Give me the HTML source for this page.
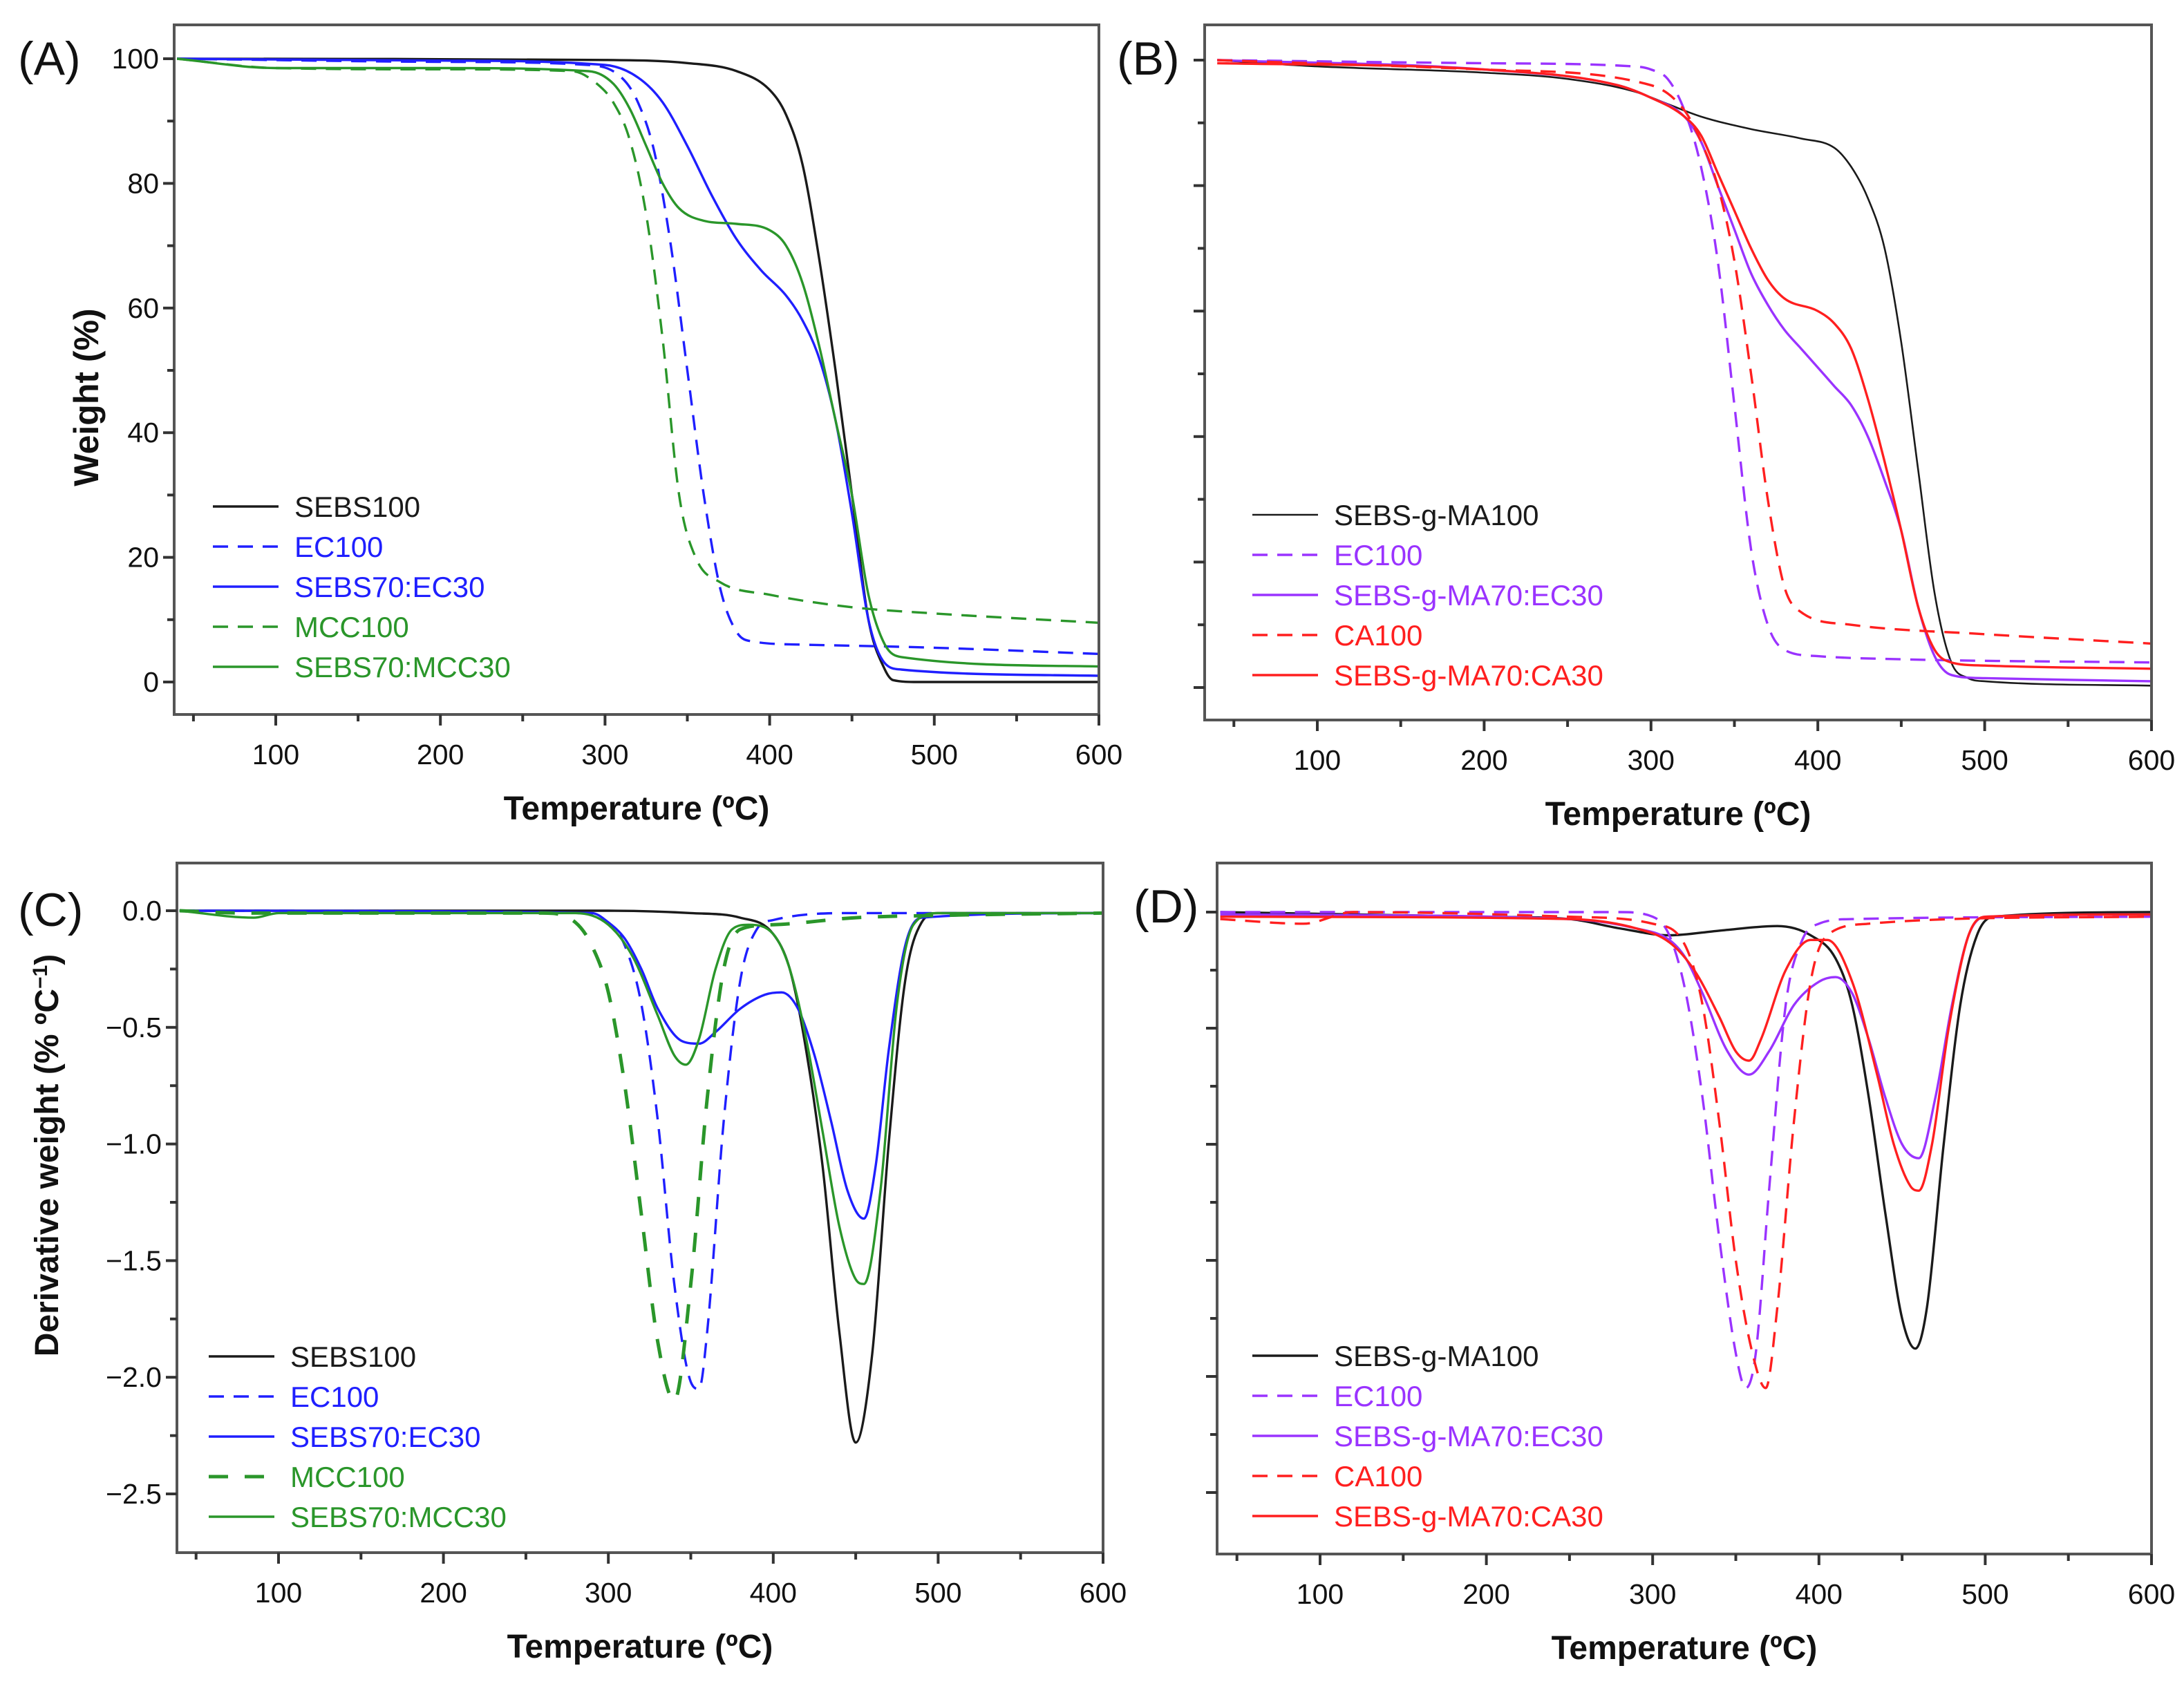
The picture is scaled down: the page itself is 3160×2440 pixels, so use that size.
<!DOCTYPE html>
<html><head><meta charset="utf-8">
<style>
html,body{margin:0;padding:0;background:#fff;}
svg{display:block;}
text{font-family:"Liberation Sans",sans-serif;}
</style></head>
<body>
<svg id="fig" width="3160" height="2440" viewBox="0 0 3160 2440" xmlns="http://www.w3.org/2000/svg"></svg>
<script>
// ---------- DATA ----------
// Panel A (weight %)
const aSEBS100_T=[40,300,350,380,400,410,420,430,440,450,460,470,475,490,600];
const aSEBS100_V=[100,99.8,99.3,98,95,91,83,68,50,30,10,2,0.3,0,0];
const aEC100_T=[40,200,290,310,320,330,340,350,360,370,380,390,420,500,600];
const aEC100_V=[100,99.5,99,97,93,85,70,50,30,15,8,6.5,6,5.5,4.5];
const aSEBSEC_T=[40,200,300,320,335,350,365,380,395,410,420,430,440,450,460,470,480,600];
const aSEBSEC_V=[100,99.7,99,97,93,86,78,71,66,62,58,52,42,27,10,3,2,1];
const aMCC100_T=[40,100,200,280,295,305,315,325,335,345,355,370,400,450,500,600];
const aMCC100_V=[100,98.5,98.3,98,96,93,87,75,55,30,20,16,14,12,11,9.5];
const aSEBSMCC_T=[40,100,200,290,305,315,325,335,345,360,380,400,410,420,430,440,450,460,470,480,600];
const aSEBSMCC_V=[100,98.5,98.5,98,96,92,86,80,76,74,73.5,72.5,70,64,54,42,30,14,6,4,2.5];
// Panel B (weight %)
const bMA100_T=[40,100,200,250,290,310,330,360,390,410,420,430,440,450,460,470,480,490,500,600];
const bMA100_V=[100,99,98,97,95,93,91,89,87.5,86,83,78,70,55,35,15,4,1.5,1,0.3];
const bEC100_T=[40,200,290,300,310,320,330,340,350,360,370,380,400,450,600];
const bEC100_V=[100,99.5,99,98.5,97,92,83,68,45,22,10,6,5,4.5,4];
const bMAEC_T=[40,200,280,300,320,330,340,350,360,370,380,390,400,410,420,430,440,450,460,470,480,500,600];
const bMAEC_V=[100,98.5,96,94,91,87,80,73,66,61,57,54,51,48,45,40,33,25,13,5,2,1.5,1];
const bCA100_T=[40,200,300,320,330,340,350,360,370,380,390,420,500,600];
const bCA100_V=[100,98.5,96,92,87,80,68,50,30,16,12,10,8.5,7];
const bMACA_T=[40,200,280,300,320,330,340,350,360,370,380,400,410,420,430,440,450,460,470,480,500,600];
const bMACA_V=[99.5,98.5,96,94,91,88,82,76,70,65,62,60,58,54,46,36,25,13,6,4,3.5,3];
// Panel C (derivative)
const cSEBS100_T=[40,300,350,380,400,410,420,430,440,450,460,470,480,490,500,600];
const cSEBS100_V=[0,0,-0.01,-0.03,-0.1,-0.25,-0.6,-1.1,-1.8,-2.28,-1.9,-1.0,-0.3,-0.05,-0.01,-0.01];
const cEC100_T=[40,280,300,310,320,330,340,350,355,360,370,380,390,400,450,600];
const cEC100_V=[0,-0.01,-0.05,-0.15,-0.4,-0.9,-1.6,-2.02,-2.05,-1.8,-0.9,-0.3,-0.08,-0.04,-0.01,-0.01];
const cSEBSEC_T=[40,290,300,310,320,330,345,355,365,380,395,405,415,425,435,445,455,462,470,480,490,600];
const cSEBSEC_V=[0,-0.01,-0.05,-0.12,-0.25,-0.42,-0.56,-0.57,-0.52,-0.42,-0.36,-0.35,-0.42,-0.62,-0.9,-1.2,-1.32,-1.1,-0.6,-0.15,-0.03,-0.01];
const cMCC100_T=[40,80,260,280,290,300,310,320,330,340,350,360,370,380,400,450,500,600];
const cMCC100_V=[0,-0.01,-0.01,-0.05,-0.15,-0.35,-0.75,-1.3,-1.85,-2.1,-1.6,-0.8,-0.25,-0.08,-0.06,-0.03,-0.02,-0.01];
const cSEBSMCC_T=[40,85,100,280,300,315,330,340,347,355,365,375,385,400,410,420,430,440,450,455,465,475,485,500,600];
const cSEBSMCC_V=[0,-0.03,-0.01,-0.01,-0.06,-0.2,-0.45,-0.62,-0.66,-0.55,-0.25,-0.08,-0.06,-0.1,-0.25,-0.55,-0.95,-1.35,-1.58,-1.6,-1.2,-0.4,-0.06,-0.01,-0.01];
// Panel D (derivative)
const dMA100_T=[40,200,250,280,310,340,375,395,410,420,430,440,450,458,465,475,485,495,505,600];
const dMA100_V=[0,-0.02,-0.03,-0.07,-0.1,-0.08,-0.06,-0.1,-0.2,-0.4,-0.8,-1.3,-1.75,-1.88,-1.7,-1.0,-0.4,-0.1,-0.02,0];
const dEC100_T=[40,280,300,310,320,330,340,350,356,362,370,380,390,400,420,600];
const dEC100_V=[0,0,-0.02,-0.1,-0.35,-0.8,-1.4,-1.9,-2.05,-1.9,-1.2,-0.4,-0.12,-0.05,-0.03,-0.02];
const dMAEC_T=[40,250,290,310,320,330,345,358,370,385,400,410,420,430,440,450,460,470,480,490,500,600];
const dMAEC_V=[-0.01,-0.03,-0.07,-0.12,-0.2,-0.35,-0.6,-0.7,-0.6,-0.4,-0.3,-0.28,-0.35,-0.55,-0.8,-1.0,-1.06,-0.8,-0.4,-0.1,-0.02,-0.01];
const dCA100_T=[40,90,120,250,300,320,330,340,350,360,368,375,385,395,405,430,480,600];
const dCA100_V=[-0.03,-0.05,0,-0.02,-0.05,-0.15,-0.4,-0.9,-1.5,-1.9,-2.05,-1.7,-0.9,-0.3,-0.1,-0.05,-0.03,-0.02];
const dMACA_T=[40,250,290,310,325,340,350,358,365,380,395,405,420,435,445,455,460,468,478,490,500,600];
const dMACA_V=[-0.02,-0.03,-0.07,-0.13,-0.25,-0.45,-0.6,-0.64,-0.55,-0.25,-0.12,-0.12,-0.3,-0.7,-1.0,-1.18,-1.2,-1.0,-0.5,-0.1,-0.02,-0.01];
const xTicks=[100,200,300,400,500,600];
const yTicksA=[0,20,40,60,80,100];
const yTicksC=[0.0,-0.5,-1.0,-1.5,-2.0,-2.5];
const yTickLabelsC=["0.0","\u22120.5","\u22121.0","\u22121.5","\u22122.0","\u22122.5"];

// ---------- RENDER ----------
const NS="http://www.w3.org/2000/svg";
const svg=document.getElementById('fig');
function mk(tag,attrs,parent){const e=document.createElementNS(NS,tag);for(const k in attrs)e.setAttribute(k,attrs[k]);(parent||svg).appendChild(e);return e;}
const BLK="#1a1a1a",BLU="#1f1fff",GRN="#2a962a",PUR="#9a33ff",RED="#ff1f1f";

function monoPath(pts){
  const n=pts.length;if(n<2)return"";
  const dx=[],m=[],t=[];
  for(let i=0;i<n-1;i++){dx[i]=pts[i+1][0]-pts[i][0];m[i]=(pts[i+1][1]-pts[i][1])/dx[i];}
  t[0]=m[0];t[n-1]=m[n-2];
  for(let i=1;i<n-1;i++){t[i]=(m[i-1]*m[i]<=0)?0:(m[i-1]+m[i])/2;}
  for(let i=0;i<n-1;i++){if(m[i]===0){t[i]=0;t[i+1]=0;continue;}const a=t[i]/m[i],b=t[i+1]/m[i],s=a*a+b*b;if(s>9){const k=3/Math.sqrt(s);t[i]=k*a*m[i];t[i+1]=k*b*m[i];}}
  let d="M"+pts[0][0].toFixed(1)+","+pts[0][1].toFixed(1);
  for(let i=0;i<n-1;i++){const h=dx[i]/3;d+=" C"+(pts[i][0]+h).toFixed(1)+","+(pts[i][1]+t[i]*h).toFixed(1)+" "+(pts[i+1][0]-h).toFixed(1)+","+(pts[i+1][1]-t[i+1]*h).toFixed(1)+" "+pts[i+1][0].toFixed(1)+","+pts[i+1][1].toFixed(1);}
  return d;
}

function panel(cfg){
  const g=mk('g',{});
  
  
  const X=t=>cfg.x100+(t-100)*cfg.xs;
  const Y=v=>cfg.y0+(v-cfg.v0)*cfg.ys;
  const clip=mk('clipPath',{id:'clip'+cfg.id},g);
  mk('rect',{x:cfg.L,y:cfg.T,width:cfg.R-cfg.L,height:cfg.B-cfg.T},clip);
  cfg.series.forEach(s=>{
    const pts=s.T.map((t,i)=>[X(t),Y(s.V[i])]);
    const p=mk('path',{d:monoPath(pts),fill:'none',stroke:s.c,'stroke-width':s.w||3.4,'stroke-dasharray':s.dash?s.dash:'none','clip-path':'url(#clip'+cfg.id+')'},g);
    
    
  });
  const fr=mk('rect',{x:cfg.L,y:cfg.T,width:cfg.R-cfg.L,height:cfg.B-cfg.T,fill:'none',stroke:'#555','stroke-width':4},g);
  
  
  for(let t=50;t<=600;t+=50){
    const major=t%100===0;const x=X(t);
    mk('line',{x1:x,x2:x,y1:cfg.B,y2:cfg.B+(major?16:10),stroke:'#333','stroke-width':4},g);
  }
  xTicks.forEach(t=>{
    const tx=mk('text',{x:X(t),y:cfg.B+72,'font-size':41,'text-anchor':'middle',fill:'#111'},g);
    tx.textContent=t;
    
    
  });
  cfg.yt.forEach((v,i)=>{
    const y=Y(v);
    mk('line',{x1:cfg.L-16,x2:cfg.L,y1:y,y2:y,stroke:'#333','stroke-width':4},g);
    if(i<cfg.yt.length-1){const ym=Y(v+(cfg.yt[i+1]-v)/2);mk('line',{x1:cfg.L-10,x2:cfg.L,y1:ym,y2:ym,stroke:'#333','stroke-width':4},g);}
    if(cfg.ylabels){
      const tx=mk('text',{x:cfg.L-22,y:y+14,'font-size':41,'text-anchor':'end',fill:'#111'},g);
      tx.textContent=cfg.ylabels[i];
      
      
    }
  });
  const xt=mk('text',{x:(cfg.L+cfg.R)/2,y:cfg.B+152,'font-size':48,'font-weight':'bold','text-anchor':'middle',fill:'#111'},g);
  xt.textContent='Temperature (ºC)';
  
  
  const pl=mk('text',{x:cfg.lx,y:cfg.ly,'font-size':68,fill:'#111'},g);
  pl.textContent=cfg.label;
  
  
  cfg.series.forEach((s,i)=>{
    const y=cfg.legY+i*cfg.legDy;
    const ln=mk('line',{x1:cfg.legX,x2:cfg.legX+95,y1:y,y2:y,stroke:s.c,'stroke-width':s.w||3.4,'stroke-dasharray':s.dash?s.dash:'none'},g);
    
    
    const tx=mk('text',{x:cfg.legX+118,y:y+15,'font-size':42,fill:s.c},g);
    tx.textContent=s.label;
    
    
  });
  return g;
}

panel({id:'A',name:'panel-a',L:252,R:1590,T:36,B:1034,x100:399,xs:2.382,y0:987,v0:0,ys:-9.02,
  yt:yTicksA,ylabels:yTicksA.map(String),label:'(A)',lx:26,ly:108,legX:308,legY:733,legDy:58,
  series:[
   {key:'sebs100',label:'SEBS100',T:aSEBS100_T,V:aSEBS100_V,c:BLK},
   {key:'ec100',label:'EC100',T:aEC100_T,V:aEC100_V,c:BLU,dash:'22,14'},
   {key:'sebs70-ec30',label:'SEBS70:EC30',T:aSEBSEC_T,V:aSEBSEC_V,c:BLU},
   {key:'mcc100',label:'MCC100',T:aMCC100_T,V:aMCC100_V,c:GRN,dash:'22,14'},
   {key:'sebs70-mcc30',label:'SEBS70:MCC30',T:aSEBSMCC_T,V:aSEBSMCC_V,c:GRN}]});
panel({id:'B',name:'panel-b',L:1743,R:3113,T:36,B:1042,x100:1906,xs:2.414,y0:995,v0:0,ys:-9.08,
  yt:yTicksA,ylabels:null,label:'(B)',lx:1616,ly:108,legX:1812,legY:745,legDy:58,
  series:[
   {key:'sebs-g-ma100',label:'SEBS-g-MA100',T:bMA100_T,V:bMA100_V,c:BLK,w:2.6},
   {key:'ec100-b',label:'EC100',T:bEC100_T,V:bEC100_V,c:PUR,dash:'22,14'},
   {key:'sebs-g-ma70-ec30',label:'SEBS-g-MA70:EC30',T:bMAEC_T,V:bMAEC_V,c:PUR},
   {key:'ca100',label:'CA100',T:bCA100_T,V:bCA100_V,c:RED,dash:'22,14'},
   {key:'sebs-g-ma70-ca30',label:'SEBS-g-MA70:CA30',T:bMACA_T,V:bMACA_V,c:RED}]});
panel({id:'C',name:'panel-c',L:256,R:1596,T:1249,B:2247,x100:403,xs:2.386,y0:1318,v0:0,ys:-337.6,
  yt:yTicksC,ylabels:yTickLabelsC,label:'(C)',lx:26,ly:1340,legX:302,legY:1963,legDy:58,
  series:[
   {key:'sebs100-dtg',label:'SEBS100',T:cSEBS100_T,V:cSEBS100_V,c:BLK},
   {key:'ec100-dtg',label:'EC100',T:cEC100_T,V:cEC100_V,c:BLU,dash:'22,14'},
   {key:'sebs70-ec30-dtg',label:'SEBS70:EC30',T:cSEBSEC_T,V:cSEBSEC_V,c:BLU},
   {key:'mcc100-dtg',label:'MCC100',T:cMCC100_T,V:cMCC100_V,c:GRN,dash:'28,24',w:5},
   {key:'sebs70-mcc30-dtg',label:'SEBS70:MCC30',T:cSEBSMCC_T,V:cSEBSMCC_V,c:GRN}]});
panel({id:'D',name:'panel-d',L:1761,R:3113,T:1249,B:2249,x100:1910,xs:2.406,y0:1320,v0:0,ys:-336,
  yt:yTicksC,ylabels:null,label:'(D)',lx:1640,ly:1335,legX:1812,legY:1962,legDy:58,
  series:[
   {key:'sebs-g-ma100-dtg',label:'SEBS-g-MA100',T:dMA100_T,V:dMA100_V,c:BLK},
   {key:'ec100-d-dtg',label:'EC100',T:dEC100_T,V:dEC100_V,c:PUR,dash:'22,14'},
   {key:'sebs-g-ma70-ec30-dtg',label:'SEBS-g-MA70:EC30',T:dMAEC_T,V:dMAEC_V,c:PUR},
   {key:'ca100-dtg',label:'CA100',T:dCA100_T,V:dCA100_V,c:RED,dash:'22,14'},
   {key:'sebs-g-ma70-ca30-dtg',label:'SEBS-g-MA70:CA30',T:dMACA_T,V:dMACA_V,c:RED}]});

const ya=mk('text',{x:0,y:0,'font-size':50,'font-weight':'bold','text-anchor':'middle',fill:'#111',transform:'translate(142,575) rotate(-90)'});
ya.textContent='Weight (%)';


const yc=mk('text',{x:0,y:0,'font-size':48,'font-weight':'bold','text-anchor':'middle',fill:'#111',transform:'translate(84,1672) rotate(-90)'});
yc.innerHTML='Derivative weight (% ºC<tspan dy="-16" font-size="30">−1</tspan><tspan dy="16">)</tspan>';


</script>
</body></html>
